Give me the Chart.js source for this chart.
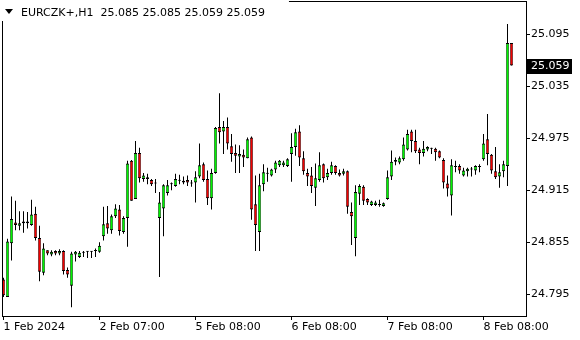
<!DOCTYPE html>
<html>
<head>
<meta charset="utf-8">
<script src="https://cdn.jsdelivr.net/npm/chart.js@4.4.1/dist/chart.umd.min.js"></script>
<style>
html,body{margin:0;padding:0;background:#fff;}
canvas{display:block;}
</style>
</head>
<body>
<canvas id="c" width="580" height="340" style="width:580px;height:340px"></canvas>
<script>
const symbolTitle = 'EURCZK+,H1';
const openP = [24.812,24.792,24.854,24.878,24.874,24.877,24.879,24.875,24.888,24.860,24.820,24.846,24.841,24.845,24.842,24.845,24.823,24.805,24.841,24.838,24.843,24.844,24.844,24.845,24.844,24.862,24.877,24.869,24.885,24.893,24.867,24.883,24.949,24.905,24.958,24.928,24.930,24.927,24.923,24.883,24.894,24.912,24.922,24.920,24.926,24.926,24.927,24.923,24.924,24.931,24.945,24.928,24.906,24.935,24.988,24.983,24.988,24.966,24.958,24.954,24.956,24.952,24.976,24.899,24.867,24.922,24.934,24.932,24.939,24.944,24.944,24.943,24.957,24.965,24.983,24.952,24.935,24.932,24.918,24.927,24.945,24.930,24.935,24.943,24.935,24.934,24.937,24.890,24.860,24.911,24.919,24.905,24.898,24.898,24.898,24.897,24.905,24.931,24.948,24.947,24.951,24.962,24.983,24.972,24.962,24.958,24.962,24.963,24.963,24.960,24.950,24.923,24.909,24.942,24.943,24.932,24.937,24.939,24.938,24.942,24.951,24.974,24.956,24.937,24.931,24.937,24.943,25.085];
const highP = [24.814,24.859,24.908,24.903,24.891,24.891,24.890,24.904,24.896,24.874,24.854,24.846,24.846,24.846,24.847,24.846,24.826,24.844,24.845,24.845,24.845,24.845,24.845,24.848,24.855,24.896,24.897,24.887,24.899,24.898,24.885,24.949,24.950,24.972,24.964,24.935,24.934,24.928,24.928,24.913,24.922,24.927,24.924,24.934,24.933,24.931,24.932,24.927,24.937,24.969,24.947,24.938,24.940,24.988,25.027,24.995,24.999,24.980,24.968,24.967,24.962,24.976,24.977,24.932,24.934,24.945,24.941,24.940,24.949,24.950,24.949,24.952,24.981,24.986,24.990,24.960,24.940,24.942,24.946,24.959,24.946,24.940,24.948,24.944,24.939,24.940,24.938,24.901,24.921,24.922,24.921,24.906,24.903,24.903,24.904,24.901,24.938,24.961,24.953,24.954,24.976,24.985,24.985,24.985,24.964,24.972,24.966,24.964,24.964,24.961,24.952,24.932,24.951,24.949,24.945,24.941,24.941,24.942,24.944,24.945,24.980,25.003,24.957,24.965,24.945,24.949,25.107,25.085];
const lowP = [24.792,24.792,24.834,24.869,24.869,24.866,24.871,24.874,24.857,24.810,24.817,24.840,24.839,24.840,24.840,24.818,24.814,24.780,24.833,24.837,24.838,24.837,24.837,24.838,24.843,24.857,24.865,24.865,24.883,24.863,24.865,24.850,24.903,24.905,24.924,24.925,24.922,24.920,24.912,24.815,24.862,24.909,24.915,24.919,24.922,24.922,24.920,24.919,24.901,24.929,24.925,24.898,24.893,24.934,24.969,24.957,24.962,24.948,24.935,24.935,24.942,24.952,24.881,24.845,24.845,24.914,24.925,24.931,24.935,24.942,24.942,24.942,24.925,24.955,24.943,24.933,24.920,24.912,24.897,24.925,24.924,24.927,24.933,24.933,24.931,24.932,24.888,24.852,24.839,24.898,24.898,24.898,24.897,24.897,24.896,24.896,24.904,24.927,24.944,24.945,24.949,24.961,24.959,24.958,24.945,24.954,24.960,24.957,24.949,24.952,24.917,24.908,24.886,24.936,24.934,24.931,24.931,24.931,24.933,24.936,24.949,24.944,24.934,24.928,24.918,24.930,24.920,25.059];
const closeP = [24.794,24.856,24.882,24.875,24.877,24.879,24.877,24.887,24.860,24.821,24.848,24.842,24.844,24.842,24.845,24.822,24.818,24.842,24.844,24.843,24.843,24.844,24.844,24.845,24.851,24.876,24.871,24.885,24.894,24.868,24.883,24.946,24.903,24.958,24.929,24.932,24.928,24.922,24.923,24.901,24.921,24.921,24.922,24.928,24.926,24.924,24.924,24.923,24.930,24.944,24.927,24.906,24.935,24.987,24.982,24.988,24.969,24.957,24.955,24.957,24.953,24.974,24.893,24.875,24.921,24.936,24.934,24.939,24.947,24.949,24.947,24.951,24.965,24.982,24.953,24.937,24.931,24.920,24.929,24.944,24.929,24.935,24.944,24.935,24.932,24.937,24.896,24.885,24.913,24.920,24.903,24.901,24.902,24.901,24.898,24.900,24.930,24.948,24.950,24.952,24.968,24.980,24.972,24.960,24.958,24.963,24.965,24.963,24.959,24.953,24.924,24.917,24.944,24.942,24.938,24.938,24.940,24.939,24.943,24.942,24.969,24.957,24.938,24.930,24.936,24.945,25.085,25.059];
const xTickIdx = [0, 24, 48, 72, 96, 120];
const xTickText = ['1 Feb 2024', '2 Feb 07:00', '5 Feb 08:00', '6 Feb 08:00', '7 Feb 08:00', '8 Feb 08:00'];
const yTicks = [24.795, 24.855, 24.915, 24.975, 25.035, 25.095];

const FONT = {family: 'DejaVu Sans', size: 11};
const UP = '#00f500', DOWN = '#f00000';

const wickData = lowP.map((l, i) => ({x: i, y: [l, highP[i]]}));
const bodyData = openP.map((o, i) => ({x: i, y: [o, closeP[i]]}));
const bodyColors = openP.map((o, i) => closeP[i] > o ? UP : (closeP[i] < o ? DOWN : '#000'));

const chrome = {
  id: 'chrome',
  beforeDraw(chart) {
    const ctx = chart.ctx;
    ctx.save();
    ctx.fillStyle = '#fff';
    ctx.fillRect(0, 0, chart.width, chart.height);
    ctx.restore();
  },
  afterDraw(chart) {
    const ctx = chart.ctx;
    const a = chart.chartArea;
    ctx.save();
    ctx.strokeStyle = '#000';
    ctx.lineWidth = 1;
    ctx.strokeRect(Math.floor(a.left) - 0.5, Math.floor(a.top) - 0.5, Math.round(a.right - a.left) + 1, Math.round(a.bottom - a.top) + 1);
    const title = symbolTitle + '  ' + [openP, highP, lowP, closeP].map(s => s[s.length - 1].toFixed(3)).join(' ');
    ctx.font = '11px "DejaVu Sans"';
    const tw = ctx.measureText(title).width;
    ctx.fillStyle = '#fff';
    ctx.fillRect(0, 0, 21 + tw + 24, 21);
    ctx.fillStyle = '#000';
    ctx.beginPath();
    ctx.moveTo(5, 9); ctx.lineTo(13, 9); ctx.lineTo(9, 14); ctx.closePath();
    ctx.fill();
    ctx.textBaseline = 'alphabetic';
    ctx.textAlign = 'left';
    ctx.fillText(title, 21, 16);
    const last = closeP[closeP.length - 1];
    const y = chart.scales.y.getPixelForValue(last);
    ctx.fillStyle = '#000';
    ctx.fillRect(a.right + 1, Math.round(y) - 7, 45, 15);
    ctx.fillStyle = '#fff';
    ctx.textBaseline = 'middle';
    ctx.fillText(last.toFixed(3), a.right + 5, Math.round(y) + 0.5);
    ctx.restore();
  }
};

new Chart(document.getElementById('c'), {
  type: 'bar',
  data: {
    datasets: [
      {
        data: bodyData,
        backgroundColor: bodyColors,
        borderColor: '#000',
        borderWidth: {left: 0.65, right: 0.65, top: 1, bottom: 1},
        borderSkipped: false,
        barThickness: 3,
        minBarLength: 1,
        inflateAmount: 0,
        grouped: false
      },
      {
        data: wickData,
        backgroundColor: '#000',
        borderWidth: 0,
        barThickness: 1,
        inflateAmount: 0,
        grouped: false
      }
    ]
  },
  options: {
    responsive: false,
    animation: false,
    devicePixelRatio: 1,
    layout: {padding: {left: 3, top: 2, right: 0, bottom: 0}},
    plugins: {legend: {display: false}, tooltip: {enabled: false}, title: {display: false}},
    scales: {
      x: {
        type: 'linear',
        position: 'bottom',
        offset: false,
        grace: 0,
        bounds: 'data',
        min: -0.125,
        max: 130.625,
        afterBuildTicks: s => { s.ticks = xTickIdx.map(v => ({value: v})); },
        afterFit: s => { s.height = 24; s.paddingLeft = 0; s.paddingRight = 0; },
        ticks: {
          callback: v => { const k = xTickIdx.indexOf(v); return k >= 0 ? xTickText[k] : ''; },
          align: 'start', maxRotation: 0, minRotation: 0, autoSkip: false,
          font: FONT, color: '#000', padding: 1
        },
        grid: {drawOnChartArea: false, drawTicks: true, tickLength: 4, color: '#000', lineWidth: 1, offset: false},
        border: {display: false}
      },
      y: {
        position: 'right',
        min: 24.770,
        max: 25.1323,
        grace: 0,
        afterBuildTicks: s => { s.ticks = yTicks.map(v => ({value: v})); },
        afterFit: s => { s.width = 54; s.paddingTop = 0; s.paddingBottom = 0; },
        ticks: {
          callback: v => Number(v).toFixed(3),
          font: FONT, color: '#000', padding: 1, crossAlign: 'near'
        },
        grid: {drawOnChartArea: false, drawTicks: true, tickLength: 4, color: '#000', lineWidth: 1},
        border: {display: false}
      }
    }
  },
  plugins: [chrome]
});
</script>
</body>
</html>
